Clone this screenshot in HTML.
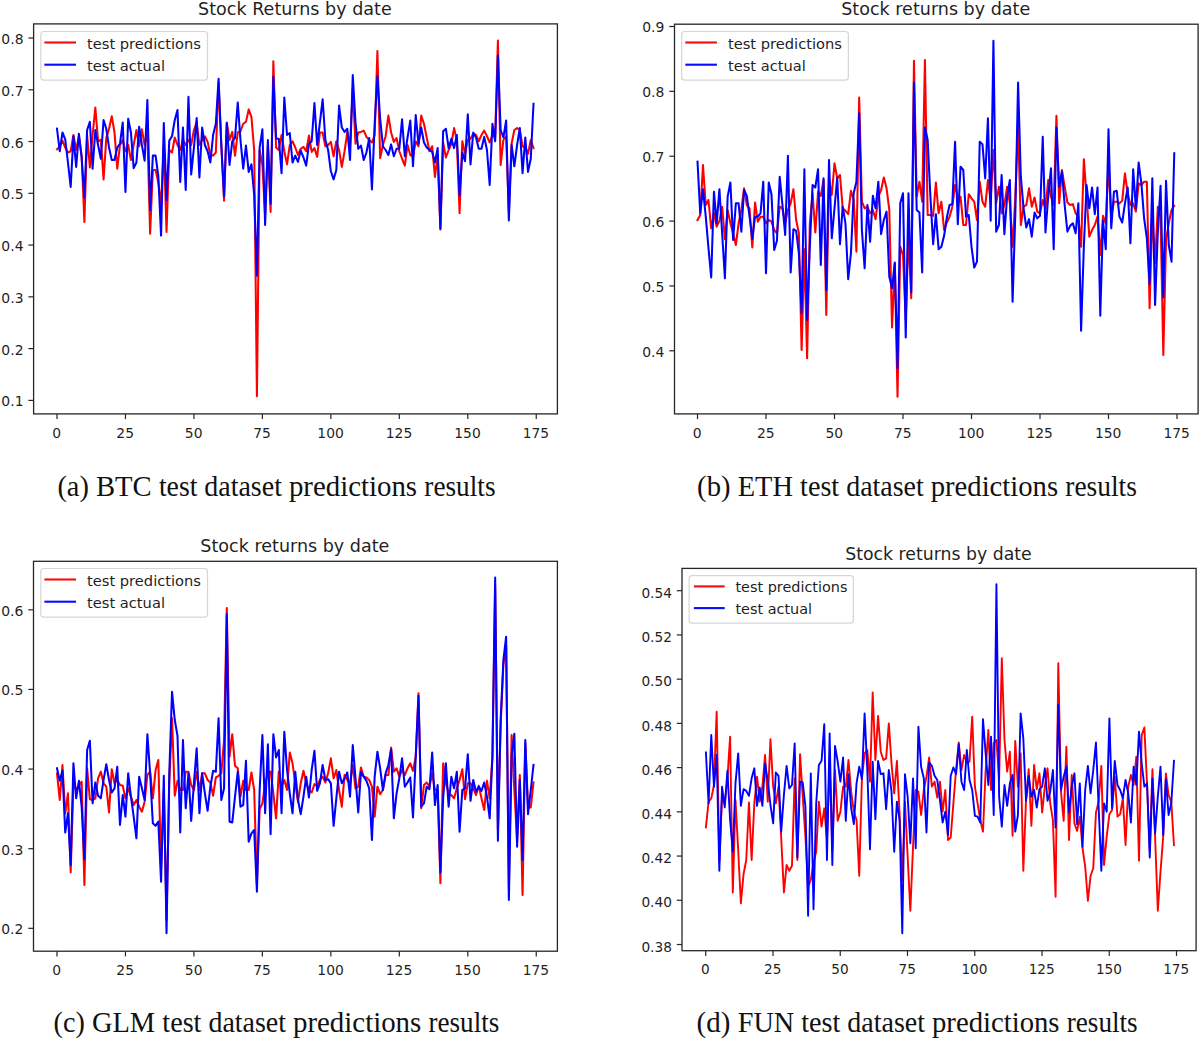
<!DOCTYPE html>
<html lang="en"><head><meta charset="utf-8"><title>Stock returns predictions</title>
<style>
html,body{margin:0;padding:0;background:#fff;}
body{width:1200px;height:1039px;overflow:hidden;}
svg{display:block;}
</style></head><body>
<svg width="1200" height="1039" viewBox="0 0 1200 1039">
<rect width="1200" height="1039" fill="#ffffff"/>
<g font-family="'DejaVu Sans','Liberation Sans',sans-serif" font-size="14.6" fill="#1f1f1f">
<clipPath id="clipa"><rect x="33.6" y="23.9" width="523.8" height="390.0"/></clipPath>
<g clip-path="url(#clipa)">
<polyline points="57.00,149.38 59.74,146.25 62.48,140.62 65.22,147.50 67.95,152.50 70.69,151.25 73.43,135.00 76.17,150.00 78.91,136.25 81.65,156.25 84.39,221.90 87.12,135.00 89.86,167.50 92.60,135.00 95.34,107.50 98.08,141.25 100.82,140.00 103.56,179.38 106.29,138.12 109.03,128.75 111.77,116.25 114.51,132.50 117.25,168.75 119.99,145.00 122.73,140.00 125.46,151.25 128.20,145.00 130.94,160.00 133.68,145.00 136.42,130.00 139.16,146.25 141.90,129.38 144.63,145.00 147.37,132.50 150.11,233.75 152.85,170.00 155.59,170.00 158.33,182.50 161.07,205.00 163.80,145.00 166.54,231.90 169.28,150.00 172.02,152.50 174.76,137.50 177.50,145.00 180.24,150.00 182.97,140.00 185.71,145.00 188.45,140.00 191.19,145.00 193.93,130.00 196.67,122.50 199.41,145.00 202.14,140.00 204.88,136.25 207.62,141.88 210.36,155.00 213.10,155.62 215.84,152.50 218.58,82.50 221.31,145.00 224.05,200.60 226.79,122.50 229.53,140.00 232.27,131.88 235.01,155.62 237.75,132.50 240.48,131.25 243.22,123.75 245.96,121.88 248.70,109.38 251.44,116.88 254.18,150.00 256.92,396.30 259.65,150.00 262.39,165.00 265.13,215.00 267.87,145.00 270.61,211.90 273.35,61.30 276.09,147.50 278.82,150.00 281.56,135.00 284.30,151.25 287.04,164.38 289.78,145.00 292.52,141.25 295.26,147.50 297.99,155.00 300.73,148.75 303.47,146.88 306.21,151.25 308.95,135.62 311.69,151.88 314.43,148.12 317.16,156.88 319.90,132.50 322.64,132.50 325.38,146.25 328.12,145.00 330.86,141.88 333.60,156.25 336.33,141.25 339.07,150.00 341.81,166.88 344.55,151.25 347.29,132.50 350.03,145.00 352.77,88.75 355.50,143.75 358.24,132.50 360.98,131.88 363.72,130.62 366.46,136.88 369.20,140.00 371.94,142.50 374.67,135.00 377.41,51.00 380.15,158.12 382.89,145.00 385.63,136.25 388.37,115.62 391.11,132.50 393.84,141.88 396.58,138.12 399.32,151.25 402.06,158.75 404.80,165.62 407.54,145.00 410.28,155.00 413.01,156.25 415.75,141.25 418.49,146.25 421.23,115.62 423.97,123.75 426.71,137.50 429.45,151.25 432.18,146.25 434.92,176.88 437.66,155.00 440.40,229.50 443.14,142.50 445.88,157.50 448.62,150.00 451.35,143.75 454.09,128.12 456.83,140.00 459.57,213.10 462.31,141.25 465.05,153.75 467.79,140.00 470.52,138.75 473.26,133.75 476.00,135.00 478.74,141.25 481.48,135.00 484.22,130.62 486.96,136.25 489.69,142.50 492.43,135.00 495.17,137.50 497.91,40.60 500.65,165.00 503.39,140.00 506.13,136.25 508.86,212.00 511.60,143.75 514.34,130.00 517.08,128.12 519.82,130.00 522.56,146.25 525.30,147.50 528.03,153.75 530.77,140.00 533.51,148.12" fill="none" stroke="#ff0000" stroke-width="2.05" stroke-linejoin="round" stroke-linecap="square"/>
<polyline points="57.00,128.75 59.74,151.25 62.48,132.50 65.22,139.38 67.95,162.50 70.69,186.88 73.43,136.25 76.17,166.88 78.91,133.75 81.65,157.50 84.39,197.50 87.12,130.00 89.86,121.88 92.60,168.75 95.34,130.00 98.08,145.00 100.82,158.75 103.56,120.00 106.29,128.75 109.03,147.50 111.77,160.00 114.51,160.00 117.25,147.50 119.99,143.75 122.73,122.50 125.46,191.88 128.20,118.75 130.94,132.50 133.68,168.12 136.42,162.50 139.16,126.88 141.90,145.00 144.63,160.62 147.37,100.00 150.11,210.00 152.85,155.62 155.59,155.62 158.33,176.25 161.07,235.60 163.80,123.12 166.54,200.00 169.28,140.62 172.02,136.25 174.76,120.00 177.50,110.00 180.24,181.88 182.97,127.50 185.71,190.00 188.45,96.88 191.19,174.38 193.93,147.50 196.67,118.12 199.41,177.50 202.14,127.50 204.88,145.00 207.62,151.25 210.36,162.50 213.10,135.00 215.84,123.75 218.58,78.75 221.31,145.00 224.05,196.25 226.79,123.12 229.53,165.00 232.27,141.25 235.01,138.12 237.75,102.50 240.48,140.00 243.22,168.75 245.96,145.62 248.70,171.88 251.44,164.38 254.18,195.00 256.92,275.60 259.65,147.50 262.39,129.38 265.13,225.00 267.87,140.00 270.61,203.75 273.35,76.80 276.09,138.75 278.82,138.75 281.56,173.12 284.30,97.50 287.04,135.00 289.78,133.12 292.52,162.50 295.26,155.62 297.99,161.88 300.73,150.62 303.47,157.50 306.21,165.62 308.95,143.75 311.69,141.25 314.43,103.12 317.16,145.00 319.90,122.50 322.64,99.38 325.38,140.00 328.12,150.00 330.86,171.25 333.60,179.38 336.33,170.00 339.07,105.62 341.81,127.50 344.55,131.88 347.29,128.75 350.03,160.00 352.77,75.00 355.50,122.50 358.24,148.75 360.98,145.62 363.72,160.00 366.46,152.50 369.20,138.12 371.94,189.38 374.67,123.75 377.41,76.25 380.15,118.62 382.89,146.25 385.63,150.00 388.37,155.00 391.11,144.38 393.84,156.25 396.58,148.75 399.32,148.75 402.06,119.38 404.80,156.25 407.54,137.50 410.28,120.62 413.01,166.25 415.75,115.00 418.49,143.75 421.23,127.50 423.97,142.50 426.71,147.50 429.45,150.00 432.18,151.88 434.92,162.50 437.66,148.12 440.40,228.75 443.14,131.25 445.88,128.75 448.62,148.12 451.35,138.75 454.09,148.12 456.83,135.00 459.57,195.60 462.31,152.50 465.05,161.25 467.79,114.38 470.52,164.38 473.26,132.50 476.00,137.50 478.74,148.75 481.48,148.75 484.22,136.88 486.96,150.00 489.69,185.00 492.43,123.75 495.17,141.25 497.91,55.60 500.65,130.00 503.39,137.50 506.13,120.62 508.86,220.50 511.60,145.00 514.34,166.25 517.08,145.00 519.82,128.12 522.56,173.12 525.30,137.50 528.03,171.88 530.77,158.75 533.51,103.75" fill="none" stroke="#0000ff" stroke-width="2.05" stroke-linejoin="round" stroke-linecap="square"/>
</g>
<rect x="33.6" y="23.9" width="523.8" height="390.0" fill="none" stroke="#262626" stroke-width="1.3"/>
<line x1="57.0" y1="413.9" x2="57.0" y2="419.09999999999997" stroke="#262626" stroke-width="1.2"/>
<text transform="translate(56.70,437.50) scale(0.9500,1)" font-size="14.60" text-anchor="middle">0</text>
<line x1="125.46" y1="413.9" x2="125.46" y2="419.09999999999997" stroke="#262626" stroke-width="1.2"/>
<text transform="translate(125.16,437.50) scale(0.9500,1)" font-size="14.60" text-anchor="middle">25</text>
<line x1="193.93" y1="413.9" x2="193.93" y2="419.09999999999997" stroke="#262626" stroke-width="1.2"/>
<text transform="translate(193.63,437.50) scale(0.9500,1)" font-size="14.60" text-anchor="middle">50</text>
<line x1="262.39" y1="413.9" x2="262.39" y2="419.09999999999997" stroke="#262626" stroke-width="1.2"/>
<text transform="translate(262.09,437.50) scale(0.9500,1)" font-size="14.60" text-anchor="middle">75</text>
<line x1="330.86" y1="413.9" x2="330.86" y2="419.09999999999997" stroke="#262626" stroke-width="1.2"/>
<text transform="translate(330.56,437.50) scale(0.9500,1)" font-size="14.60" text-anchor="middle">100</text>
<line x1="399.32" y1="413.9" x2="399.32" y2="419.09999999999997" stroke="#262626" stroke-width="1.2"/>
<text transform="translate(399.02,437.50) scale(0.9500,1)" font-size="14.60" text-anchor="middle">125</text>
<line x1="467.79" y1="413.9" x2="467.79" y2="419.09999999999997" stroke="#262626" stroke-width="1.2"/>
<text transform="translate(467.49,437.50) scale(0.9500,1)" font-size="14.60" text-anchor="middle">150</text>
<line x1="536.25" y1="413.9" x2="536.25" y2="419.09999999999997" stroke="#262626" stroke-width="1.2"/>
<text transform="translate(535.95,437.50) scale(0.9500,1)" font-size="14.60" text-anchor="middle">175</text>
<line x1="28.400000000000002" y1="38.0" x2="33.6" y2="38.0" stroke="#262626" stroke-width="1.2"/>
<text transform="translate(23.50,43.99) scale(0.9363,1)" font-size="14.89" text-anchor="end">0.8</text>
<line x1="28.400000000000002" y1="89.77" x2="33.6" y2="89.77" stroke="#262626" stroke-width="1.2"/>
<text transform="translate(23.50,95.76) scale(0.9363,1)" font-size="14.89" text-anchor="end">0.7</text>
<line x1="28.400000000000002" y1="141.54" x2="33.6" y2="141.54" stroke="#262626" stroke-width="1.2"/>
<text transform="translate(23.50,147.53) scale(0.9363,1)" font-size="14.89" text-anchor="end">0.6</text>
<line x1="28.400000000000002" y1="193.31" x2="33.6" y2="193.31" stroke="#262626" stroke-width="1.2"/>
<text transform="translate(23.50,199.30) scale(0.9363,1)" font-size="14.89" text-anchor="end">0.5</text>
<line x1="28.400000000000002" y1="245.08" x2="33.6" y2="245.08" stroke="#262626" stroke-width="1.2"/>
<text transform="translate(23.50,251.07) scale(0.9363,1)" font-size="14.89" text-anchor="end">0.4</text>
<line x1="28.400000000000002" y1="296.85" x2="33.6" y2="296.85" stroke="#262626" stroke-width="1.2"/>
<text transform="translate(23.50,302.84) scale(0.9363,1)" font-size="14.89" text-anchor="end">0.3</text>
<line x1="28.400000000000002" y1="348.62" x2="33.6" y2="348.62" stroke="#262626" stroke-width="1.2"/>
<text transform="translate(23.50,354.61) scale(0.9363,1)" font-size="14.89" text-anchor="end">0.2</text>
<line x1="28.400000000000002" y1="400.39" x2="33.6" y2="400.39" stroke="#262626" stroke-width="1.2"/>
<text transform="translate(23.50,406.38) scale(0.9363,1)" font-size="14.89" text-anchor="end">0.1</text>
<text transform="translate(294.90,15.40) scale(0.9757,1)" font-size="17.97" text-anchor="middle">Stock Returns by date</text>
<rect x="40.8" y="31.5" width="166.7" height="48.6" rx="3" ry="3" fill="#ffffff" fill-opacity="0.8" stroke="#cccccc" stroke-opacity="0.8" stroke-width="1.2"/>
<line x1="44.4" y1="42.5" x2="76.0" y2="42.5" stroke="#f20d0d" stroke-width="2.1"/>
<line x1="44.4" y1="64.7" x2="76.0" y2="64.7" stroke="#0a0aff" stroke-width="2.1"/>
<text transform="translate(87.00,48.78) scale(1.0050,1)" font-size="14.60" text-anchor="start">test predictions</text>
<text transform="translate(87.00,70.54) scale(1.0050,1)" font-size="14.60" text-anchor="start">test actual</text>
</g>
<g font-family="'DejaVu Sans','Liberation Sans',sans-serif" font-size="14.6" fill="#1f1f1f">
<clipPath id="clipb"><rect x="674.5" y="24.2" width="523.5999999999999" height="389.7"/></clipPath>
<g clip-path="url(#clipb)">
<polyline points="697.50,220.00 700.24,215.00 702.98,165.00 705.72,205.00 708.46,200.00 711.20,228.33 713.94,213.33 716.68,226.67 719.42,220.83 722.16,206.67 724.90,239.17 727.64,210.00 730.38,223.33 733.12,233.33 735.86,245.00 738.60,223.33 741.34,210.00 744.08,188.33 746.82,205.00 749.56,208.33 752.30,247.50 755.04,202.50 757.78,221.67 760.52,216.67 763.26,216.67 766.00,223.33 768.74,220.00 771.48,221.67 774.22,230.00 776.96,233.33 779.70,206.67 782.44,208.33 785.18,223.33 787.92,210.00 790.66,203.33 793.40,189.17 796.14,220.00 798.88,233.33 801.62,350.00 804.36,249.17 807.10,358.30 809.84,223.33 812.58,193.33 815.32,232.50 818.06,191.67 820.80,195.83 823.54,180.00 826.28,315.00 829.02,180.00 831.76,195.00 834.50,163.33 837.24,178.33 839.98,175.00 842.72,208.33 845.46,210.83 848.20,214.17 850.94,190.83 853.68,200.00 856.42,251.67 859.16,97.50 861.90,201.67 864.64,208.33 867.38,206.67 870.12,213.33 872.86,210.00 875.60,219.17 878.34,196.67 881.08,190.00 883.82,177.50 886.56,188.33 889.30,210.00 892.04,327.50 894.78,263.33 897.52,396.70 900.26,246.67 903.00,255.00 905.74,320.00 908.48,233.33 911.22,298.30 913.96,60.80 916.70,196.67 919.44,181.67 922.18,201.67 924.92,60.00 927.66,215.00 930.40,215.00 933.14,215.83 935.88,182.50 938.62,213.33 941.36,201.67 944.10,230.00 946.84,222.50 949.58,216.67 952.32,206.67 955.06,185.00 957.80,196.67 960.54,196.67 963.28,225.00 966.02,225.00 968.76,194.17 971.50,198.33 974.24,201.67 976.98,220.00 979.72,181.67 982.46,201.67 985.20,206.67 987.94,180.00 990.68,200.00 993.42,150.00 996.16,203.33 998.90,186.67 1001.64,213.33 1004.38,205.00 1007.12,186.67 1009.86,203.33 1012.60,246.67 1015.34,196.67 1018.08,125.00 1020.82,225.00 1023.56,206.67 1026.30,205.00 1029.04,188.33 1031.78,206.67 1034.52,197.50 1037.26,211.67 1040.00,213.33 1042.74,200.00 1045.48,208.33 1048.22,180.00 1050.96,196.67 1053.70,205.00 1056.44,115.80 1059.18,203.33 1061.92,170.00 1064.66,186.67 1067.40,202.50 1070.14,205.00 1072.88,204.17 1075.62,213.33 1078.36,216.67 1081.10,246.67 1083.84,159.17 1086.58,196.67 1089.32,236.67 1092.06,230.00 1094.80,225.00 1097.54,216.67 1100.28,255.00 1103.02,215.83 1105.76,223.33 1108.50,163.33 1111.24,216.67 1113.98,201.67 1116.72,201.67 1119.46,203.33 1122.20,200.83 1124.94,173.33 1127.68,193.33 1130.42,205.00 1133.16,203.33 1135.90,211.67 1138.64,183.33 1141.38,185.00 1144.12,181.67 1146.86,181.67 1149.60,308.30 1152.34,213.33 1155.08,263.33 1157.82,206.67 1160.56,216.67 1163.30,355.00 1166.04,240.00 1168.78,223.33 1171.52,210.00 1174.26,205.83" fill="none" stroke="#ff0000" stroke-width="2.05" stroke-linejoin="round" stroke-linecap="square"/>
<polyline points="697.50,161.67 700.24,213.33 702.98,189.17 705.72,216.17 708.46,247.83 711.20,277.50 713.94,191.67 716.68,223.33 719.42,189.17 722.16,233.33 724.90,278.33 727.64,196.67 730.38,182.50 733.12,240.00 735.86,203.33 738.60,203.33 741.34,231.67 744.08,190.00 746.82,195.83 749.56,216.67 752.30,239.17 755.04,216.67 757.78,216.67 760.52,213.33 763.26,181.67 766.00,273.33 768.74,182.50 771.48,194.17 774.22,250.00 776.96,240.83 779.70,176.67 782.44,205.00 785.18,235.00 787.92,155.83 790.66,272.50 793.40,229.17 796.14,230.83 798.88,253.33 801.62,313.30 804.36,169.17 807.10,320.00 809.84,246.67 812.58,185.00 815.32,187.50 818.06,169.17 820.80,265.00 823.54,178.33 826.28,290.00 829.02,160.00 831.76,238.33 834.50,208.33 837.24,177.50 839.98,244.17 842.72,206.67 845.46,223.33 848.20,279.17 850.94,253.33 853.68,193.33 856.42,181.67 859.16,113.30 861.90,230.00 864.64,268.33 867.38,205.00 870.12,241.67 872.86,195.83 875.60,208.33 878.34,181.67 881.08,234.17 883.82,220.00 886.56,211.67 889.30,276.67 892.04,288.30 894.78,262.50 897.52,368.30 900.26,203.33 903.00,193.33 905.74,337.50 908.48,193.33 911.22,292.50 913.96,82.50 916.70,210.00 919.44,212.50 922.18,272.50 924.92,127.50 927.66,140.00 930.40,196.67 933.14,244.17 935.88,214.17 938.62,249.17 941.36,246.67 944.10,235.83 946.84,217.50 949.58,205.00 952.32,204.17 955.06,141.67 957.80,224.17 960.54,166.67 963.28,170.00 966.02,216.67 968.76,215.00 971.50,246.67 974.24,267.50 976.98,261.67 979.72,141.67 982.46,144.17 985.20,178.33 987.94,118.30 990.68,220.83 993.42,40.80 996.16,231.67 998.90,225.00 1001.64,175.00 1004.38,234.17 1007.12,196.67 1009.86,180.00 1012.60,301.67 1015.34,213.33 1018.08,82.50 1020.82,176.67 1023.56,208.33 1026.30,227.50 1029.04,219.17 1031.78,236.67 1034.52,212.50 1037.26,218.33 1040.00,215.83 1042.74,136.67 1045.48,232.50 1048.22,196.67 1050.96,168.33 1053.70,249.17 1056.44,127.50 1059.18,186.67 1061.92,171.67 1064.66,205.00 1067.40,231.67 1070.14,225.83 1072.88,223.33 1075.62,233.33 1078.36,203.33 1081.10,330.80 1083.84,246.67 1086.58,185.00 1089.32,208.33 1092.06,187.50 1094.80,214.17 1097.54,187.50 1100.28,315.80 1103.02,220.83 1105.76,249.17 1108.50,129.20 1111.24,228.33 1113.98,191.67 1116.72,190.83 1119.46,216.67 1122.20,222.50 1124.94,203.33 1127.68,187.50 1130.42,243.33 1133.16,169.17 1135.90,208.33 1138.64,162.50 1141.38,183.33 1144.12,218.33 1146.86,238.33 1149.60,284.00 1152.34,178.33 1155.08,305.00 1157.82,231.67 1160.56,185.83 1163.30,297.50 1166.04,180.83 1168.78,245.00 1171.52,261.67 1174.26,153.33" fill="none" stroke="#0000ff" stroke-width="2.05" stroke-linejoin="round" stroke-linecap="square"/>
</g>
<rect x="674.5" y="24.2" width="523.5999999999999" height="389.7" fill="none" stroke="#262626" stroke-width="1.3"/>
<line x1="697.5" y1="413.9" x2="697.5" y2="419.09999999999997" stroke="#262626" stroke-width="1.2"/>
<text transform="translate(697.20,437.50) scale(0.9500,1)" font-size="14.60" text-anchor="middle">0</text>
<line x1="766.0" y1="413.9" x2="766.0" y2="419.09999999999997" stroke="#262626" stroke-width="1.2"/>
<text transform="translate(765.70,437.50) scale(0.9500,1)" font-size="14.60" text-anchor="middle">25</text>
<line x1="834.5" y1="413.9" x2="834.5" y2="419.09999999999997" stroke="#262626" stroke-width="1.2"/>
<text transform="translate(834.20,437.50) scale(0.9500,1)" font-size="14.60" text-anchor="middle">50</text>
<line x1="903.0" y1="413.9" x2="903.0" y2="419.09999999999997" stroke="#262626" stroke-width="1.2"/>
<text transform="translate(902.70,437.50) scale(0.9500,1)" font-size="14.60" text-anchor="middle">75</text>
<line x1="971.5" y1="413.9" x2="971.5" y2="419.09999999999997" stroke="#262626" stroke-width="1.2"/>
<text transform="translate(971.20,437.50) scale(0.9500,1)" font-size="14.60" text-anchor="middle">100</text>
<line x1="1040.0" y1="413.9" x2="1040.0" y2="419.09999999999997" stroke="#262626" stroke-width="1.2"/>
<text transform="translate(1039.70,437.50) scale(0.9500,1)" font-size="14.60" text-anchor="middle">125</text>
<line x1="1108.5" y1="413.9" x2="1108.5" y2="419.09999999999997" stroke="#262626" stroke-width="1.2"/>
<text transform="translate(1108.20,437.50) scale(0.9500,1)" font-size="14.60" text-anchor="middle">150</text>
<line x1="1177.0" y1="413.9" x2="1177.0" y2="419.09999999999997" stroke="#262626" stroke-width="1.2"/>
<text transform="translate(1176.70,437.50) scale(0.9500,1)" font-size="14.60" text-anchor="middle">175</text>
<line x1="669.3" y1="26.5" x2="674.5" y2="26.5" stroke="#262626" stroke-width="1.2"/>
<text transform="translate(664.40,32.49) scale(0.9363,1)" font-size="14.89" text-anchor="end">0.9</text>
<line x1="669.3" y1="91.36" x2="674.5" y2="91.36" stroke="#262626" stroke-width="1.2"/>
<text transform="translate(664.40,97.35) scale(0.9363,1)" font-size="14.89" text-anchor="end">0.8</text>
<line x1="669.3" y1="156.22" x2="674.5" y2="156.22" stroke="#262626" stroke-width="1.2"/>
<text transform="translate(664.40,162.21) scale(0.9363,1)" font-size="14.89" text-anchor="end">0.7</text>
<line x1="669.3" y1="221.08" x2="674.5" y2="221.08" stroke="#262626" stroke-width="1.2"/>
<text transform="translate(664.40,227.07) scale(0.9363,1)" font-size="14.89" text-anchor="end">0.6</text>
<line x1="669.3" y1="285.94" x2="674.5" y2="285.94" stroke="#262626" stroke-width="1.2"/>
<text transform="translate(664.40,291.93) scale(0.9363,1)" font-size="14.89" text-anchor="end">0.5</text>
<line x1="669.3" y1="350.8" x2="674.5" y2="350.8" stroke="#262626" stroke-width="1.2"/>
<text transform="translate(664.40,356.79) scale(0.9363,1)" font-size="14.89" text-anchor="end">0.4</text>
<text transform="translate(935.70,15.40) scale(0.9757,1)" font-size="17.97" text-anchor="middle">Stock returns by date</text>
<rect x="681.7" y="31.5" width="166.7" height="48.6" rx="3" ry="3" fill="#ffffff" fill-opacity="0.8" stroke="#cccccc" stroke-opacity="0.8" stroke-width="1.2"/>
<line x1="685.3000000000001" y1="42.5" x2="716.9000000000001" y2="42.5" stroke="#f20d0d" stroke-width="2.1"/>
<line x1="685.3000000000001" y1="64.7" x2="716.9000000000001" y2="64.7" stroke="#0a0aff" stroke-width="2.1"/>
<text transform="translate(727.90,48.78) scale(1.0050,1)" font-size="14.60" text-anchor="start">test predictions</text>
<text transform="translate(727.90,70.54) scale(1.0050,1)" font-size="14.60" text-anchor="start">test actual</text>
</g>
<g font-family="'DejaVu Sans','Liberation Sans',sans-serif" font-size="14.6" fill="#1f1f1f">
<clipPath id="clipc"><rect x="33.5" y="561.3" width="523.9" height="389.9000000000001"/></clipPath>
<g clip-path="url(#clipc)">
<polyline points="57.00,773.33 59.74,800.00 62.48,765.00 65.22,813.33 67.95,793.33 70.69,872.50 73.43,783.33 76.17,790.00 78.91,785.00 81.65,781.67 84.39,885.00 87.12,768.33 89.86,799.17 92.60,800.00 95.34,798.33 98.08,778.33 100.82,771.67 103.56,783.33 106.29,786.67 109.03,812.50 111.77,769.17 114.51,783.33 117.25,780.00 119.99,785.00 122.73,785.83 125.46,798.33 128.20,788.33 130.94,796.67 133.68,805.00 136.42,800.00 139.16,806.67 141.90,811.67 144.63,801.67 147.37,775.00 150.11,771.67 152.85,798.33 155.59,770.00 158.33,760.00 161.07,868.00 163.80,790.00 166.54,920.00 169.28,783.33 172.02,718.33 174.76,795.83 177.50,780.83 180.24,790.00 182.97,790.00 185.71,771.67 188.45,771.67 191.19,785.00 193.93,790.00 196.67,771.67 199.41,790.00 202.14,773.33 204.88,773.33 207.62,780.00 210.36,782.50 213.10,795.83 215.84,777.50 218.58,775.83 221.31,773.33 224.05,740.00 226.79,608.00 229.53,756.67 232.27,734.17 235.01,765.83 237.75,768.33 240.48,796.67 243.22,780.83 245.96,790.00 248.70,790.00 251.44,772.50 254.18,790.00 256.92,884.00 259.65,809.17 262.39,803.33 265.13,783.33 267.87,773.33 270.61,771.67 273.35,793.33 276.09,818.33 278.82,771.67 281.56,786.67 284.30,780.00 287.04,790.00 289.78,752.50 292.52,763.33 295.26,783.33 297.99,801.67 300.73,783.33 303.47,770.83 306.21,783.33 308.95,790.00 311.69,792.50 314.43,784.17 317.16,785.83 319.90,780.00 322.64,776.67 325.38,782.50 328.12,773.33 330.86,758.33 333.60,778.33 336.33,770.00 339.07,790.00 341.81,806.67 344.55,775.00 347.29,780.00 350.03,783.33 352.77,765.00 355.50,788.33 358.24,786.67 360.98,767.50 363.72,776.67 366.46,777.50 369.20,780.00 371.94,786.67 374.67,816.67 377.41,786.67 380.15,794.17 382.89,790.00 385.63,775.00 388.37,775.00 391.11,747.50 393.84,771.67 396.58,768.33 399.32,776.67 402.06,770.00 404.80,775.00 407.54,768.33 410.28,763.33 413.01,770.83 415.75,756.67 418.49,693.33 421.23,808.33 423.97,785.00 426.71,782.50 429.45,786.67 432.18,773.33 434.92,790.00 437.66,790.00 440.40,883.30 443.14,763.33 445.88,783.33 448.62,793.33 451.35,795.00 454.09,798.33 456.83,788.33 459.57,780.00 462.31,769.17 465.05,799.17 467.79,783.33 470.52,783.33 473.26,788.33 476.00,795.00 478.74,785.83 481.48,798.33 484.22,810.00 486.96,780.83 489.69,798.33 492.43,756.67 495.17,585.00 497.91,830.00 500.65,725.00 503.39,665.00 506.13,645.00 508.86,890.00 511.60,735.00 514.34,790.00 517.08,840.00 519.82,775.00 522.56,895.00 525.30,743.33 528.03,806.67 530.77,807.50 533.51,782.50" fill="none" stroke="#ff0000" stroke-width="2.05" stroke-linejoin="round" stroke-linecap="square"/>
<polyline points="57.00,768.33 59.74,780.83 62.48,770.83 65.22,832.50 67.95,813.33 70.69,865.00 73.43,763.33 76.17,798.33 78.91,780.83 81.65,806.67 84.39,859.20 87.12,750.00 89.86,740.83 92.60,803.33 95.34,782.50 98.08,795.83 100.82,798.33 103.56,780.00 106.29,764.17 109.03,780.00 111.77,792.50 114.51,788.33 117.25,766.67 119.99,825.00 122.73,795.00 125.46,816.67 128.20,773.33 130.94,796.67 133.68,816.67 136.42,838.33 139.16,776.67 141.90,788.33 144.63,800.00 147.37,734.17 150.11,773.33 152.85,823.33 155.59,825.83 158.33,821.67 161.07,881.70 163.80,775.83 166.54,933.30 169.28,773.33 172.02,691.67 174.76,720.00 177.50,735.83 180.24,832.50 182.97,740.00 185.71,808.33 188.45,773.33 191.19,820.83 193.93,783.33 196.67,748.33 199.41,813.33 202.14,773.33 204.88,793.33 207.62,810.83 210.36,786.67 213.10,770.83 215.84,771.67 218.58,718.33 221.31,800.00 224.05,788.33 226.79,614.20 229.53,821.67 232.27,822.50 235.01,796.67 237.75,771.67 240.48,806.67 243.22,805.00 245.96,760.83 248.70,841.67 251.44,833.33 254.18,830.00 256.92,891.70 259.65,790.00 262.39,735.00 265.13,813.33 267.87,744.17 270.61,834.17 273.35,734.17 276.09,757.50 278.82,750.00 281.56,813.33 284.30,731.67 287.04,770.00 289.78,793.33 292.52,813.33 295.26,771.67 297.99,800.00 300.73,814.17 303.47,796.67 306.21,776.67 308.95,797.50 311.69,770.00 314.43,750.83 317.16,790.83 319.90,783.33 322.64,765.00 325.38,780.00 328.12,779.17 330.86,783.33 333.60,825.83 336.33,798.33 339.07,771.67 341.81,783.33 344.55,778.33 347.29,772.50 350.03,796.67 352.77,745.00 355.50,778.33 358.24,812.50 360.98,771.67 363.72,776.67 366.46,780.83 369.20,788.33 371.94,840.00 374.67,776.67 377.41,751.67 380.15,768.33 382.89,790.00 385.63,773.33 388.37,765.00 391.11,749.17 393.84,818.33 396.58,793.33 399.32,778.33 402.06,758.33 404.80,786.67 407.54,782.50 410.28,777.50 413.01,817.50 415.75,756.67 418.49,695.83 421.23,806.67 423.97,803.33 426.71,786.67 429.45,789.17 432.18,752.50 434.92,805.00 437.66,785.00 440.40,872.50 443.14,798.33 445.88,763.33 448.62,806.67 451.35,776.67 454.09,788.33 456.83,771.67 459.57,831.67 462.31,790.00 465.05,788.33 467.79,754.17 470.52,800.83 473.26,780.00 476.00,791.67 478.74,786.67 481.48,790.83 484.22,782.50 486.96,796.67 489.69,818.33 492.43,756.67 495.17,577.50 497.91,840.80 500.65,720.00 503.39,660.00 506.13,636.70 508.86,900.00 511.60,756.67 514.34,733.67 517.08,846.70 519.82,780.00 522.56,860.00 525.30,740.00 528.03,814.17 530.77,790.00 533.51,765.00" fill="none" stroke="#0000ff" stroke-width="2.05" stroke-linejoin="round" stroke-linecap="square"/>
</g>
<rect x="33.5" y="561.3" width="523.9" height="389.9000000000001" fill="none" stroke="#262626" stroke-width="1.3"/>
<line x1="57.0" y1="951.2" x2="57.0" y2="956.4000000000001" stroke="#262626" stroke-width="1.2"/>
<text transform="translate(56.70,974.80) scale(0.9500,1)" font-size="14.60" text-anchor="middle">0</text>
<line x1="125.46" y1="951.2" x2="125.46" y2="956.4000000000001" stroke="#262626" stroke-width="1.2"/>
<text transform="translate(125.16,974.80) scale(0.9500,1)" font-size="14.60" text-anchor="middle">25</text>
<line x1="193.93" y1="951.2" x2="193.93" y2="956.4000000000001" stroke="#262626" stroke-width="1.2"/>
<text transform="translate(193.63,974.80) scale(0.9500,1)" font-size="14.60" text-anchor="middle">50</text>
<line x1="262.39" y1="951.2" x2="262.39" y2="956.4000000000001" stroke="#262626" stroke-width="1.2"/>
<text transform="translate(262.09,974.80) scale(0.9500,1)" font-size="14.60" text-anchor="middle">75</text>
<line x1="330.86" y1="951.2" x2="330.86" y2="956.4000000000001" stroke="#262626" stroke-width="1.2"/>
<text transform="translate(330.56,974.80) scale(0.9500,1)" font-size="14.60" text-anchor="middle">100</text>
<line x1="399.32" y1="951.2" x2="399.32" y2="956.4000000000001" stroke="#262626" stroke-width="1.2"/>
<text transform="translate(399.02,974.80) scale(0.9500,1)" font-size="14.60" text-anchor="middle">125</text>
<line x1="467.79" y1="951.2" x2="467.79" y2="956.4000000000001" stroke="#262626" stroke-width="1.2"/>
<text transform="translate(467.49,974.80) scale(0.9500,1)" font-size="14.60" text-anchor="middle">150</text>
<line x1="536.25" y1="951.2" x2="536.25" y2="956.4000000000001" stroke="#262626" stroke-width="1.2"/>
<text transform="translate(535.95,974.80) scale(0.9500,1)" font-size="14.60" text-anchor="middle">175</text>
<line x1="28.3" y1="609.8" x2="33.5" y2="609.8" stroke="#262626" stroke-width="1.2"/>
<text transform="translate(23.40,615.79) scale(0.9363,1)" font-size="14.89" text-anchor="end">0.6</text>
<line x1="28.3" y1="689.43" x2="33.5" y2="689.43" stroke="#262626" stroke-width="1.2"/>
<text transform="translate(23.40,695.42) scale(0.9363,1)" font-size="14.89" text-anchor="end">0.5</text>
<line x1="28.3" y1="769.06" x2="33.5" y2="769.06" stroke="#262626" stroke-width="1.2"/>
<text transform="translate(23.40,775.05) scale(0.9363,1)" font-size="14.89" text-anchor="end">0.4</text>
<line x1="28.3" y1="848.69" x2="33.5" y2="848.69" stroke="#262626" stroke-width="1.2"/>
<text transform="translate(23.40,854.68) scale(0.9363,1)" font-size="14.89" text-anchor="end">0.3</text>
<line x1="28.3" y1="928.32" x2="33.5" y2="928.32" stroke="#262626" stroke-width="1.2"/>
<text transform="translate(23.40,934.31) scale(0.9363,1)" font-size="14.89" text-anchor="end">0.2</text>
<text transform="translate(294.85,552.40) scale(0.9757,1)" font-size="17.97" text-anchor="middle">Stock returns by date</text>
<rect x="40.8" y="568.5" width="166.7" height="48.6" rx="3" ry="3" fill="#ffffff" fill-opacity="0.8" stroke="#cccccc" stroke-opacity="0.8" stroke-width="1.2"/>
<line x1="44.4" y1="579.5" x2="76.0" y2="579.5" stroke="#f20d0d" stroke-width="2.1"/>
<line x1="44.4" y1="601.7" x2="76.0" y2="601.7" stroke="#0a0aff" stroke-width="2.1"/>
<text transform="translate(87.00,585.78) scale(1.0050,1)" font-size="14.60" text-anchor="start">test predictions</text>
<text transform="translate(87.00,607.54) scale(1.0050,1)" font-size="14.60" text-anchor="start">test actual</text>
</g>
<g font-family="'DejaVu Sans','Liberation Sans',sans-serif" font-size="14.35" fill="#1f1f1f">
<clipPath id="clipd"><rect x="682.0" y="568.4" width="514.0999999999999" height="382.30000000000007"/></clipPath>
<g clip-path="url(#clipd)">
<polyline points="705.90,827.50 708.59,801.67 711.28,798.33 713.97,785.00 716.66,711.67 719.35,862.00 722.04,796.67 724.73,803.33 727.42,778.33 730.11,736.67 732.80,892.50 735.49,800.00 738.18,850.00 740.87,903.30 743.56,874.00 746.25,860.00 748.94,802.50 751.63,860.00 754.32,803.33 757.01,776.67 759.70,801.67 762.39,786.67 765.08,755.00 767.77,801.67 770.46,739.17 773.15,786.67 775.84,803.33 778.53,786.67 781.22,838.33 783.91,892.50 786.60,865.00 789.29,870.80 791.98,865.80 794.67,778.33 797.36,860.00 800.05,754.17 802.74,796.67 805.43,836.67 808.12,886.70 810.81,880.00 813.50,863.00 816.19,851.70 818.88,801.67 821.57,826.67 824.26,808.33 826.95,840.00 829.64,763.33 832.33,850.00 835.02,770.00 837.71,820.83 840.40,811.67 843.09,786.67 845.78,786.67 848.47,760.00 851.16,791.67 853.85,811.67 856.54,820.00 859.23,875.80 861.92,778.33 864.61,753.33 867.30,750.00 869.99,781.67 872.68,692.50 875.37,760.00 878.06,715.83 880.75,751.67 883.44,760.00 886.13,758.33 888.82,723.33 891.51,763.33 894.20,793.33 896.89,760.83 899.58,813.33 902.27,880.00 904.96,801.70 907.65,856.70 910.34,910.80 913.03,846.70 915.72,790.00 918.41,791.67 921.10,815.00 923.79,790.00 926.48,776.67 929.17,757.50 931.86,786.67 934.55,781.67 937.24,797.50 939.93,781.67 942.62,811.67 945.31,790.00 948.00,840.00 950.69,837.50 953.38,803.33 956.07,770.00 958.76,742.50 961.45,770.00 964.14,755.00 966.83,762.50 969.52,761.67 972.21,716.67 974.90,786.67 977.59,803.33 980.28,820.00 982.97,831.67 985.66,770.00 988.35,730.00 991.04,790.00 993.73,743.33 996.42,740.00 999.11,780.00 1001.80,658.30 1004.49,740.00 1007.18,771.67 1009.87,751.67 1012.56,835.83 1015.25,740.83 1017.94,786.67 1020.63,753.33 1023.32,870.80 1026.01,800.00 1028.70,769.17 1031.39,825.83 1034.08,765.00 1036.77,789.17 1039.46,773.33 1042.15,812.50 1044.84,786.67 1047.53,768.33 1050.22,803.33 1052.91,820.00 1055.60,896.70 1058.29,663.30 1060.98,791.67 1063.67,820.83 1066.36,746.67 1069.05,840.00 1071.74,775.00 1074.43,823.33 1077.12,830.83 1079.81,816.67 1082.50,848.00 1085.19,866.70 1087.88,900.80 1090.57,875.80 1093.26,868.30 1095.95,812.50 1098.64,801.70 1101.33,765.83 1104.02,865.00 1106.71,836.67 1109.40,814.17 1112.09,810.00 1114.78,776.67 1117.47,816.67 1120.16,814.17 1122.85,798.33 1125.54,845.00 1128.23,786.67 1130.92,775.00 1133.61,785.00 1136.30,756.67 1138.99,860.80 1141.68,735.00 1144.37,727.50 1147.06,785.00 1149.75,850.00 1152.44,769.17 1155.13,838.00 1157.82,910.80 1160.51,871.70 1163.20,836.70 1165.89,773.33 1168.58,795.00 1171.27,801.67 1173.96,845.00" fill="none" stroke="#ff0000" stroke-width="1.9" stroke-linejoin="round" stroke-linecap="square"/>
<polyline points="705.90,752.50 708.59,803.33 711.28,735.00 713.97,786.67 716.66,755.00 719.35,870.80 722.04,786.67 724.73,807.50 727.42,770.83 730.11,820.00 732.80,851.70 735.49,783.33 738.18,753.33 740.87,805.83 743.56,789.17 746.25,790.83 748.94,795.83 751.63,778.33 754.32,768.33 757.01,805.83 759.70,787.50 762.39,805.83 765.08,763.33 767.77,780.83 770.46,805.00 773.15,823.33 775.84,772.50 778.53,775.83 781.22,831.67 783.91,795.00 786.60,765.83 789.29,788.33 791.98,785.00 794.67,743.33 797.36,857.50 800.05,781.67 802.74,782.50 805.43,806.67 808.12,915.80 810.81,773.33 813.50,909.20 816.19,803.33 818.88,765.00 821.57,760.83 824.26,724.17 826.95,860.00 829.64,733.33 832.33,865.00 835.02,745.83 837.71,761.67 840.40,781.67 843.09,757.50 845.78,820.83 848.47,774.17 851.16,808.33 853.85,824.17 856.54,783.33 859.23,766.67 861.92,779.17 864.61,713.33 867.30,770.00 869.99,849.20 872.68,761.67 875.37,819.17 878.06,760.83 880.75,774.17 883.44,773.33 886.13,809.17 888.82,770.00 891.51,791.67 894.20,851.70 896.89,801.67 899.58,820.00 902.27,933.30 904.96,774.17 907.65,796.67 910.34,843.30 913.03,778.33 915.72,848.30 918.41,726.67 921.10,766.67 923.79,778.33 926.48,832.50 929.17,762.50 931.86,765.83 934.55,775.83 937.24,780.00 939.93,800.00 942.62,822.50 945.31,811.67 948.00,835.00 950.69,775.83 953.38,767.50 956.07,774.17 958.76,744.17 961.45,781.67 964.14,790.00 966.83,750.00 969.52,780.00 972.21,790.00 974.90,815.83 977.59,816.67 980.28,822.50 982.97,719.17 985.66,753.33 988.35,785.00 991.04,736.67 993.73,815.00 996.42,584.20 999.11,796.67 1001.80,826.67 1004.49,785.00 1007.18,805.83 1009.87,783.33 1012.56,775.00 1015.25,831.67 1017.94,815.00 1020.63,713.33 1023.32,738.33 1026.01,800.83 1028.70,775.83 1031.39,796.67 1034.08,790.00 1036.77,807.50 1039.46,789.17 1042.15,786.67 1044.84,768.33 1047.53,800.83 1050.22,791.67 1052.91,770.00 1055.60,827.50 1058.29,705.00 1060.98,790.00 1063.67,776.67 1066.36,766.67 1069.05,812.50 1071.74,786.67 1074.43,773.33 1077.12,824.17 1079.81,783.33 1082.50,846.70 1085.19,790.00 1087.88,765.83 1090.57,793.33 1093.26,770.00 1095.95,742.50 1098.64,806.67 1101.33,870.80 1104.02,803.33 1106.71,811.67 1109.40,718.33 1112.09,808.33 1114.78,760.83 1117.47,785.00 1120.16,790.00 1122.85,798.33 1125.54,780.00 1128.23,793.33 1130.92,822.50 1133.61,766.67 1136.30,785.00 1138.99,731.67 1141.68,763.33 1144.37,786.67 1147.06,783.33 1149.75,857.50 1152.44,778.33 1155.13,833.30 1157.82,796.67 1160.51,766.67 1163.20,835.00 1165.89,779.17 1168.58,815.00 1171.27,803.33 1173.96,760.83" fill="none" stroke="#0000ff" stroke-width="1.9" stroke-linejoin="round" stroke-linecap="square"/>
</g>
<rect x="682.0" y="568.4" width="514.0999999999999" height="382.30000000000007" fill="none" stroke="#262626" stroke-width="1.3"/>
<line x1="705.75" y1="950.7" x2="705.75" y2="955.9000000000001" stroke="#262626" stroke-width="1.2"/>
<text transform="translate(705.45,974.30) scale(0.9500,1)" font-size="14.35" text-anchor="middle">0</text>
<line x1="773.0" y1="950.7" x2="773.0" y2="955.9000000000001" stroke="#262626" stroke-width="1.2"/>
<text transform="translate(772.70,974.30) scale(0.9500,1)" font-size="14.35" text-anchor="middle">25</text>
<line x1="840.25" y1="950.7" x2="840.25" y2="955.9000000000001" stroke="#262626" stroke-width="1.2"/>
<text transform="translate(839.95,974.30) scale(0.9500,1)" font-size="14.35" text-anchor="middle">50</text>
<line x1="907.5" y1="950.7" x2="907.5" y2="955.9000000000001" stroke="#262626" stroke-width="1.2"/>
<text transform="translate(907.20,974.30) scale(0.9500,1)" font-size="14.35" text-anchor="middle">75</text>
<line x1="974.75" y1="950.7" x2="974.75" y2="955.9000000000001" stroke="#262626" stroke-width="1.2"/>
<text transform="translate(974.45,974.30) scale(0.9500,1)" font-size="14.35" text-anchor="middle">100</text>
<line x1="1042.0" y1="950.7" x2="1042.0" y2="955.9000000000001" stroke="#262626" stroke-width="1.2"/>
<text transform="translate(1041.70,974.30) scale(0.9500,1)" font-size="14.35" text-anchor="middle">125</text>
<line x1="1109.25" y1="950.7" x2="1109.25" y2="955.9000000000001" stroke="#262626" stroke-width="1.2"/>
<text transform="translate(1108.95,974.30) scale(0.9500,1)" font-size="14.35" text-anchor="middle">150</text>
<line x1="1176.5" y1="950.7" x2="1176.5" y2="955.9000000000001" stroke="#262626" stroke-width="1.2"/>
<text transform="translate(1176.20,974.30) scale(0.9500,1)" font-size="14.35" text-anchor="middle">175</text>
<line x1="676.8" y1="590.7" x2="682.0" y2="590.7" stroke="#262626" stroke-width="1.2"/>
<text transform="translate(671.90,597.88) scale(0.9363,1)" font-size="14.64" text-anchor="end">0.54</text>
<line x1="676.8" y1="634.93" x2="682.0" y2="634.93" stroke="#262626" stroke-width="1.2"/>
<text transform="translate(671.90,642.10) scale(0.9363,1)" font-size="14.64" text-anchor="end">0.52</text>
<line x1="676.8" y1="679.15" x2="682.0" y2="679.15" stroke="#262626" stroke-width="1.2"/>
<text transform="translate(671.90,686.32) scale(0.9363,1)" font-size="14.64" text-anchor="end">0.50</text>
<line x1="676.8" y1="723.38" x2="682.0" y2="723.38" stroke="#262626" stroke-width="1.2"/>
<text transform="translate(671.90,730.55) scale(0.9363,1)" font-size="14.64" text-anchor="end">0.48</text>
<line x1="676.8" y1="767.6" x2="682.0" y2="767.6" stroke="#262626" stroke-width="1.2"/>
<text transform="translate(671.90,774.77) scale(0.9363,1)" font-size="14.64" text-anchor="end">0.46</text>
<line x1="676.8" y1="811.83" x2="682.0" y2="811.83" stroke="#262626" stroke-width="1.2"/>
<text transform="translate(671.90,819.00) scale(0.9363,1)" font-size="14.64" text-anchor="end">0.44</text>
<line x1="676.8" y1="856.05" x2="682.0" y2="856.05" stroke="#262626" stroke-width="1.2"/>
<text transform="translate(671.90,863.22) scale(0.9363,1)" font-size="14.64" text-anchor="end">0.42</text>
<line x1="676.8" y1="900.28" x2="682.0" y2="900.28" stroke="#262626" stroke-width="1.2"/>
<text transform="translate(671.90,907.45) scale(0.9363,1)" font-size="14.64" text-anchor="end">0.40</text>
<line x1="676.8" y1="944.5" x2="682.0" y2="944.5" stroke="#262626" stroke-width="1.2"/>
<text transform="translate(671.90,951.67) scale(0.9363,1)" font-size="14.64" text-anchor="end">0.38</text>
<text transform="translate(938.45,559.80) scale(0.9757,1)" font-size="17.72" text-anchor="middle">Stock returns by date</text>
<rect x="689.1" y="575.7" width="164.3" height="47.4" rx="3" ry="3" fill="#ffffff" fill-opacity="0.8" stroke="#cccccc" stroke-opacity="0.8" stroke-width="1.2"/>
<line x1="693.9" y1="586.4000000000001" x2="724.6999999999999" y2="586.4000000000001" stroke="#f20d0d" stroke-width="2.1"/>
<line x1="693.9" y1="608.1" x2="724.6999999999999" y2="608.1" stroke="#0a0aff" stroke-width="2.1"/>
<text transform="translate(735.40,591.78) scale(1.0050,1)" font-size="14.35" text-anchor="start">test predictions</text>
<text transform="translate(735.40,614.34) scale(1.0050,1)" font-size="14.35" text-anchor="start">test actual</text>
</g>
<text y="495.7" font-family="'Liberation Serif','DejaVu Serif',serif" font-size="28.9" fill="#111"><tspan x="57.40" textLength="38.55" lengthAdjust="spacingAndGlyphs">(a) </tspan><tspan x="95.95" textLength="62.95" lengthAdjust="spacingAndGlyphs">BTC </tspan><tspan x="158.90" textLength="45.40" lengthAdjust="spacingAndGlyphs">test </tspan><tspan x="204.30" textLength="84.60" lengthAdjust="spacingAndGlyphs">dataset </tspan><tspan x="288.90" textLength="135.40" lengthAdjust="spacingAndGlyphs">predictions </tspan><tspan x="424.30" textLength="71.20" lengthAdjust="spacingAndGlyphs">results</tspan></text>
<text y="495.7" font-family="'Liberation Serif','DejaVu Serif',serif" font-size="28.9" fill="#111"><tspan x="697.10" textLength="40.60" lengthAdjust="spacingAndGlyphs">(b) </tspan><tspan x="737.70" textLength="62.40" lengthAdjust="spacingAndGlyphs">ETH </tspan><tspan x="800.10" textLength="46.10" lengthAdjust="spacingAndGlyphs">test </tspan><tspan x="846.20" textLength="84.50" lengthAdjust="spacingAndGlyphs">dataset </tspan><tspan x="930.70" textLength="134.60" lengthAdjust="spacingAndGlyphs">predictions </tspan><tspan x="1065.30" textLength="71.60" lengthAdjust="spacingAndGlyphs">results</tspan></text>
<text y="1031.9" font-family="'Liberation Serif','DejaVu Serif',serif" font-size="28.9" fill="#111"><tspan x="53.60" textLength="38.30" lengthAdjust="spacingAndGlyphs">(c) </tspan><tspan x="91.90" textLength="70.40" lengthAdjust="spacingAndGlyphs">GLM </tspan><tspan x="162.30" textLength="46.20" lengthAdjust="spacingAndGlyphs">test </tspan><tspan x="208.50" textLength="84.50" lengthAdjust="spacingAndGlyphs">dataset </tspan><tspan x="293.00" textLength="135.50" lengthAdjust="spacingAndGlyphs">predictions </tspan><tspan x="428.50" textLength="70.80" lengthAdjust="spacingAndGlyphs">results</tspan></text>
<text y="1031.9" font-family="'Liberation Serif','DejaVu Serif',serif" font-size="28.9" fill="#111"><tspan x="696.60" textLength="41.10" lengthAdjust="spacingAndGlyphs">(d) </tspan><tspan x="737.70" textLength="63.50" lengthAdjust="spacingAndGlyphs">FUN </tspan><tspan x="801.20" textLength="46.10" lengthAdjust="spacingAndGlyphs">test </tspan><tspan x="847.30" textLength="84.70" lengthAdjust="spacingAndGlyphs">dataset </tspan><tspan x="932.00" textLength="134.70" lengthAdjust="spacingAndGlyphs">predictions </tspan><tspan x="1066.70" textLength="71.00" lengthAdjust="spacingAndGlyphs">results</tspan></text>
</svg>
</body></html>
